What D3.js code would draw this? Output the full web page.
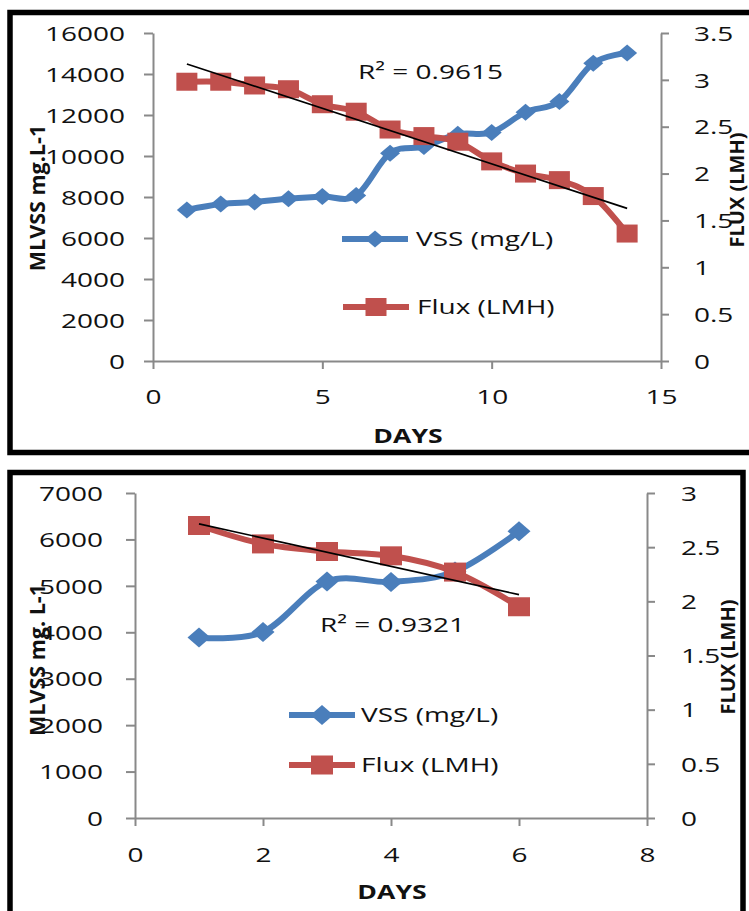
<!DOCTYPE html>
<html>
<head>
<meta charset="utf-8">
<script src="https://cdn.jsdelivr.net/npm/d3@7"></script>
<style>
  body { margin: 0; background: #fff; }
  svg { display: block; }
  text { font-family: "Open Sans", "Liberation Sans", sans-serif; fill: #111; }
</style>
</head>
<body>
<div id="chart"></div>
<script>
// --- data ---
const daysA = [1, 2, 3, 4, 5, 6, 7, 8, 9, 10, 11, 12, 13, 14];
const vssA = [7370, 7660, 7760, 7910, 8020, 8070, 10140, 10460, 11060, 11150, 12140, 12660, 14530, 15020];
const fluxA = [2.98, 2.98, 2.94, 2.90, 2.74, 2.66, 2.47, 2.40, 2.34, 2.13, 2.00, 1.93, 1.76, 1.36];
const xTicksA = [0, 5, 10, 15];
const leftTicksA = [0, 2000, 4000, 6000, 8000, 10000, 12000, 14000, 16000];
const rightTicksA = [0, 0.5, 1, 1.5, 2, 2.5, 3, 3.5];

const daysB = [1, 2, 3, 4, 5, 6];
const vssB = [3890, 4005, 5095, 5085, 5310, 6175];
const fluxB = [2.70, 2.53, 2.46, 2.42, 2.27, 1.95];
const xTicksB = [0, 2, 4, 6, 8];
const leftTicksB = [0, 1000, 2000, 3000, 4000, 5000, 6000, 7000];
const rightTicksB = [0, 0.5, 1, 1.5, 2, 2.5, 3];

const seriesNames = ["VSS (mg/L)", "Flux (LMH)"];
const r2Labels = ["R\u00b2 = 0.9615", "R\u00b2 = 0.9321"];
const xTitle = "DAYS";
const leftTitles = ["MLVSS mg.L-1", "MLVSS mg. L-1"];
const rightTitle = "FLUX (LMH)";

const blue = "#4a7ebb", red = "#c0504d", axisColor = "#898989";
const SX = 1.4; // the picture's text is stretched sideways
const FS = 20;

const svg = d3.select("#chart").append("svg")
  .attr("width", 749)
  .attr("height", 911);

function stretchText(g, x, y, str, anchor, size, weight) {
  return g.append("text")
    .attr("transform", `translate(${x},${y}) scale(${SX},1)`)
    .attr("text-anchor", anchor)
    .attr("dy", "0.36em")
    .style("font-size", size + "px")
    .style("font-weight", weight || "normal")
    .text(str);
}

function linearFit(xs, ys) {
  const mx = d3.mean(xs), my = d3.mean(ys);
  const num = d3.sum(xs, (v, i) => (v - mx) * (ys[i] - my));
  const den = d3.sum(xs, v => (v - mx) * (v - mx));
  const slope = num / den;
  return v => my + slope * (v - mx);
}

function renderChart(c) {
  const g = svg.append("g");

  // frame
  g.append("rect")
    .attr("x", c.frame[0]).attr("y", c.frame[1])
    .attr("width", c.frame[2]).attr("height", c.frame[3])
    .attr("fill", "none").attr("stroke", "#000").attr("stroke-width", 5.5);

  const x = d3.scaleLinear().domain(c.xDomain).range(c.xRange);
  const yL = d3.scaleLinear().domain(c.leftDomain).range(c.yRange);
  const yR = d3.scaleLinear().domain(c.rightDomain).range(c.yRange);

  const styleAxis = ax => {
    ax.select(".domain").attr("stroke", axisColor).attr("stroke-width", 2);
    ax.selectAll(".tick line").attr("stroke", axisColor).attr("stroke-width", 2);
    ax.selectAll(".tick text").style("font-size", FS + "px").style("font-family", null).attr("fill", "#111");
  };

  const axX = g.append("g")
    .attr("transform", `translate(0,${c.yRange[0]})`)
    .call(d3.axisBottom(x).tickValues(c.xTicks).tickSize(8).tickSizeOuter(0));
  styleAxis(axX);
  axX.selectAll(".tick text").attr("y", 0).attr("dy", "0.36em")
    .attr("transform", `translate(0,${c.xPad}) scale(${SX},1)`);

  const axL = g.append("g")
    .attr("transform", `translate(${c.xRange[0]},0)`)
    .call(d3.axisLeft(yL).tickValues(c.leftTicks).tickSize(9).tickSizeOuter(0).tickFormat(d3.format("d")));
  styleAxis(axL);
  axL.selectAll(".tick text").attr("x", 0).attr("dy", "0.36em")
    .attr("transform", `translate(${-c.leftPad},0) scale(${SX},1)`);

  const axR = g.append("g")
    .attr("transform", `translate(${c.xRange[1]},0)`)
    .call(d3.axisRight(yR).tickValues(c.rightTicks).tickSize(8).tickSizeOuter(0).tickFormat(d => String(d)));
  styleAxis(axR);
  axR.selectAll(".tick text").attr("x", 0).attr("dy", "0.36em")
    .attr("transform", `translate(${c.rightPad},0) scale(${SX},1)`);

  const curve = d3.curveCardinal.tension(0);

  // VSS series
  const vssLine = d3.line().x((d, i) => x(c.days[i])).y(d => yL(d)).curve(curve);
  g.append("path").datum(c.vss)
    .attr("d", vssLine).attr("fill", "none")
    .attr("stroke", blue).attr("stroke-width", 6);
  const diamond = (w, h) => `M0,${-h}L${w},0L0,${h}L${-w},0Z`;
  g.selectAll(".vss-pt").data(c.vss).enter().append("path")
    .attr("class", "vss-pt")
    .attr("transform", (d, i) => `translate(${x(c.days[i])},${yL(d)})`)
    .attr("d", diamond(c.dia[0], c.dia[1]))
    .attr("fill", blue);

  // Flux series
  const fluxLine = d3.line().x((d, i) => x(c.days[i])).y(d => yR(d)).curve(curve);
  g.append("path").datum(c.flux)
    .attr("d", fluxLine).attr("fill", "none")
    .attr("stroke", red).attr("stroke-width", 6);
  g.selectAll(".flux-pt").data(c.flux).enter().append("rect")
    .attr("class", "flux-pt")
    .attr("x", (d, i) => x(c.days[i]) - c.sq[0] / 2)
    .attr("y", d => yR(d) - c.sq[1] / 2)
    .attr("width", c.sq[0]).attr("height", c.sq[1])
    .attr("fill", red);

  // linear trend of flux
  const fit = linearFit(c.days, c.flux);
  const x0 = c.days[0], x1 = c.days[c.days.length - 1];
  g.append("line")
    .attr("x1", x(x0)).attr("y1", yR(fit(x0)))
    .attr("x2", x(x1)).attr("y2", yR(fit(x1)))
    .attr("stroke", "#000").attr("stroke-width", 1.6);

  stretchText(g, c.r2Pos[0], c.r2Pos[1], c.r2, "start", FS);

  // legend
  c.legend.forEach((pos, i) => {
    const [lx, ly] = pos;
    const col = i === 0 ? blue : red;
    g.append("line")
      .attr("x1", lx).attr("x2", lx + 66).attr("y1", ly).attr("y2", ly)
      .attr("stroke", col).attr("stroke-width", 6);
    if (i === 0) {
      g.append("path").attr("transform", `translate(${lx + 33},${ly})`)
        .attr("d", diamond(c.dia[0], c.dia[1])).attr("fill", col);
    } else {
      g.append("rect")
        .attr("x", lx + 33 - c.sq[0] / 2).attr("y", ly - c.sq[1] / 2)
        .attr("width", c.sq[0]).attr("height", c.sq[1]).attr("fill", col);
    }
    stretchText(g, lx + c.legendText, ly, seriesNames[i], "start", FS);
  });

  // titles
  stretchText(g, c.xTitlePos[0], c.xTitlePos[1], xTitle, "middle", 19, "bold");
  g.append("text")
    .attr("transform", `translate(${c.leftTitlePos[0]},${c.leftTitlePos[1]}) rotate(-90)`)
    .attr("text-anchor", "middle")
    .style("font-size", "21.5px").style("font-weight", "bold")
    .text(c.leftTitle);
  g.append("text")
    .attr("transform", `translate(${c.rightTitlePos[0]},${c.rightTitlePos[1]}) rotate(-90)`)
    .attr("text-anchor", "middle")
    .style("font-size", "20px").style("font-weight", "bold")
    .text(rightTitle);
}

renderChart({
  frame: [10, 12.5, 760, 440],
  xDomain: [0, 15], xRange: [153, 661],
  leftDomain: [0, 16000], rightDomain: [0, 3.5], yRange: [361, 33],
  xTicks: xTicksA, leftTicks: leftTicksA, rightTicks: rightTicksA,
  xPad: 36, leftPad: 28, rightPad: 33,
  days: daysA, vss: vssA, flux: fluxA,
  dia: [10, 8.5], sq: [21, 18],
  r2: r2Labels[0], r2Pos: [358, 72],
  legend: [[342, 239], [343, 307]], legendText: 74,
  xTitlePos: [408, 436], leftTitle: leftTitles[0], leftTitlePos: [45, 198],
  rightTitlePos: [744, 190]
});

renderChart({
  frame: [10, 472.5, 733, 460],
  xDomain: [0, 8], xRange: [135, 647],
  leftDomain: [0, 7000], rightDomain: [0, 3], yRange: [818, 493],
  xTicks: xTicksB, leftTicks: leftTicksB, rightTicks: rightTicksB,
  xPad: 37, leftPad: 32, rightPad: 34,
  days: daysB, vss: vssB, flux: fluxB,
  dia: [11.5, 10], sq: [22, 19],
  r2: r2Labels[1], r2Pos: [320, 625],
  legend: [[289, 715], [289, 765]], legendText: 72,
  xTitlePos: [392, 892], leftTitle: leftTitles[1], leftTitlePos: [45, 660],
  rightTitlePos: [735, 657]
});
</script>
</body>
</html>
